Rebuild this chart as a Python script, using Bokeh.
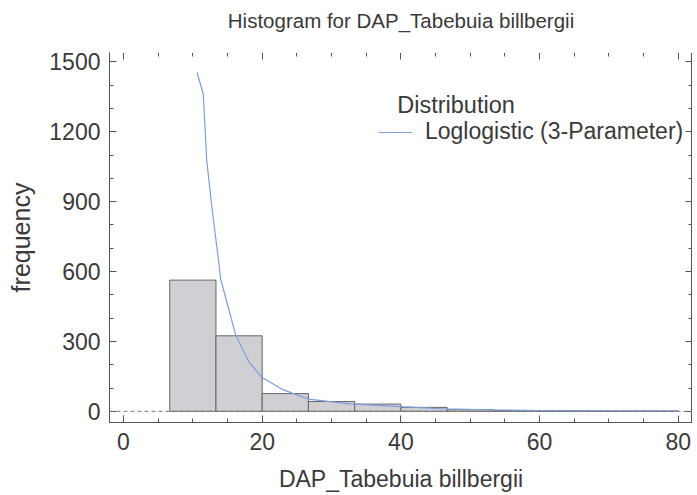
from bokeh.plotting import figure
from bokeh.models import (Range1d, FixedTicker, LinearAxis, Legend, LegendItem,
                          Label, Span, ColumnDataSource)
from bokeh.embed import file_html
from bokeh.resources import INLINE

# ---- data ----
bin_left = [6.667, 13.333, 20.0, 26.667, 33.333, 40.0, 46.667, 53.333, 60.0, 66.667, 73.333]
bin_right = [13.333, 20.0, 26.667, 33.333, 40.0, 46.667, 53.333, 60.0, 66.667, 73.333, 80.0]
counts = [563, 324, 76, 42, 31, 17, 7, 3, 2, 1, 1]

curve_x = [10.6, 11.5, 12.0, 12.8, 13.7, 14.0, 16.15, 18.1, 20.0, 23.0, 26.7, 32.6,
           39.2, 46.0, 53.0, 60.0, 70.0, 80.0]
curve_y = [1454, 1362, 1076, 862, 648, 569, 330, 211, 145, 93, 52, 32,
           21, 11, 6, 3, 1.5, 1]

x_major = [0, 20, 40, 60, 80]
x_minor = list(range(0, 85, 5))
y_major = [0, 300, 600, 900, 1200, 1500]
y_minor = list(range(0, 1600, 100))

FONT = "Liberation Sans"
TXT = "#3a3a3a"
AX = "#555555"

p = figure(frame_width=583, frame_height=370,
           x_range=Range1d(-2.02, 82.05), y_range=Range1d(-48, 1540),
           output_backend="svg", toolbar_location=None,
           min_border_left=109, min_border_right=0,
           min_border_top=52, min_border_bottom=70,
           title="Histogram for DAP_Tabebuia billbergii")

p.title.align = "center"
p.title.text_font = FONT
p.title.text_font_size = "20.5px"
p.title.text_font_style = "normal"
p.title.text_color = TXT
p.title.standoff = 10

p.xgrid.visible = False
p.ygrid.visible = False
p.outline_line_color = AX
p.background_fill_color = "white"
p.border_fill_color = "white"

src = ColumnDataSource(dict(left=bin_left, right=bin_right, top=counts))
p.quad(left="left", right="right", top="top", bottom=0, source=src,
       fill_color="#d0d0d4", line_color="#666666", line_width=1)

p.add_layout(Span(location=0, dimension="width", line_color="#777777",
                  line_dash="4 3", line_width=1))

curve = p.line(curve_x, curve_y, line_color="#7f9fdc", line_width=1.2)


def style_axis(ax, major, minor, show_labels=True):
    ax.ticker = FixedTicker(ticks=major, minor_ticks=minor)
    ax.major_tick_in = 7
    ax.major_tick_out = 0
    ax.minor_tick_in = 4
    ax.minor_tick_out = 0
    ax.axis_line_color = AX
    ax.major_tick_line_color = AX
    ax.minor_tick_line_color = AX
    ax.major_label_text_font = FONT
    ax.major_label_text_color = TXT
    ax.axis_label_text_font = FONT
    ax.axis_label_text_color = TXT
    ax.axis_label_text_font_style = "normal"
    if show_labels:
        ax.major_label_text_font_size = "23px"
        ax.axis_label_text_font_size = "23px"
    else:
        ax.major_label_text_font_size = "0px"
        ax.major_label_standoff = 0


xa = p.xaxis[0]
style_axis(xa, x_major, x_minor)
xa.axis_label = "DAP_Tabebuia billbergii"
xa.major_label_standoff = 10
xa.axis_label_standoff = 13

ya = p.yaxis[0]
style_axis(ya, y_major, y_minor)
ya.axis_label = "frequency"
ya.axis_label_text_font_size = "25px"
ya.major_label_standoff = 9
ya.axis_label_standoff = 11

top_ax = LinearAxis()
style_axis(top_ax, x_major, x_minor, show_labels=False)
p.add_layout(top_ax, "above")

# invisible spacer axis: pushes the title up, away from the frame
spacer = LinearAxis(ticker=FixedTicker(ticks=x_major, minor_ticks=[]),
                    major_tick_in=0, major_tick_out=16, minor_tick_in=0, minor_tick_out=0,
                    axis_line_color="white", major_tick_line_color="white",
                    major_label_text_font_size="0px", major_label_standoff=0)
p.add_layout(spacer, "above")

right_ax = LinearAxis()
style_axis(right_ax, y_major, y_minor, show_labels=False)
p.add_layout(right_ax, "right")

legend = Legend(items=[LegendItem(label="Loglogistic (3-Parameter)", renderers=[curve])],
                location=(269, 277), padding=0, margin=0, spacing=0,
                glyph_width=34, glyph_height=24, label_height=24, label_standoff=13,
                label_text_font=FONT, label_text_font_size="23px",
                label_text_color=TXT, border_line_color=None,
                background_fill_alpha=0)
p.add_layout(legend, "center")

p.add_layout(Label(x=39.47, y=1313, text="Distribution", text_baseline="middle",
                   text_font=FONT, text_font_size="23.5px", text_color=TXT))

open("out.html", "w").write(file_html(p, INLINE))
